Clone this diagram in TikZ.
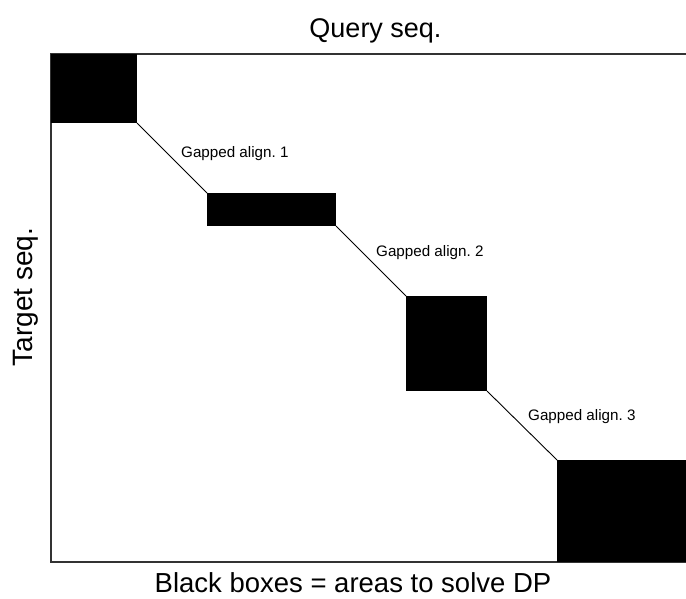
\documentclass[tikz,border=0pt]{standalone}
\usepackage{fontspec}
\setmainfont{Liberation Sans}
\frenchspacing
\begin{document}
\begin{tikzpicture}[x=1pt,y=-1pt,
  dpbox/.style={fill=black,draw=none,inner sep=0pt,outer sep=0pt,rectangle},
  gap/.style={line width=0.9pt,draw=black},
  lbl/.style={anchor=base west,inner sep=0pt,font=\fontsize{15.2}{18}\selectfont},
  title/.style={anchor=base,inner sep=0pt},
  frameline/.style={line width=1.2pt,draw=black!80}]
\useasboundingbox[fill=white] (0,0) rectangle (686,599);
% frame
\coordinate (TL) at (51,54);
\coordinate (TR) at (686,54);
\coordinate (BL) at (51,562);
\coordinate (BR) at (686,562);
\draw[frameline] (TR) -- (TL) -- (BL) -- (BR);
% black boxes
\node[dpbox,minimum width=86pt,minimum height=69pt] (b1) at (94,88.5) {};
\node[dpbox,minimum width=129pt,minimum height=33pt] (b2) at (271.5,209.5) {};
\node[dpbox,minimum width=81pt,minimum height=95pt] (b3) at (446.5,343.5) {};
\node[dpbox,minimum width=129pt,minimum height=102pt] (b4) at (621.5,511) {};
% gapped alignments
\draw[gap] (b1.south east) -- (b2.north west);
\draw[gap] (b2.south east) -- (b3.north west);
\draw[gap] (b3.south east) -- (b4.north west);
\node[lbl] (l1) at (181,157.3) {Gapped align. 1};
\node[lbl] (l2) at (376,256) {Gapped align. 2};
\node[lbl] (l3) at (528,420.7) {Gapped align. 3};
% axis titles
\node[title,font=\fontsize{27}{32}\selectfont] (q) at (375.5,38) {Query seq.};
\node[title,font=\fontsize{27.5}{33}\selectfont] (bb) at (353,592) {Black boxes = areas to solve DP};
\node[title,rotate=90,font=\fontsize{28}{33}\selectfont] (t) at (32,297) {Target seq.};
\end{tikzpicture}
\end{document}
